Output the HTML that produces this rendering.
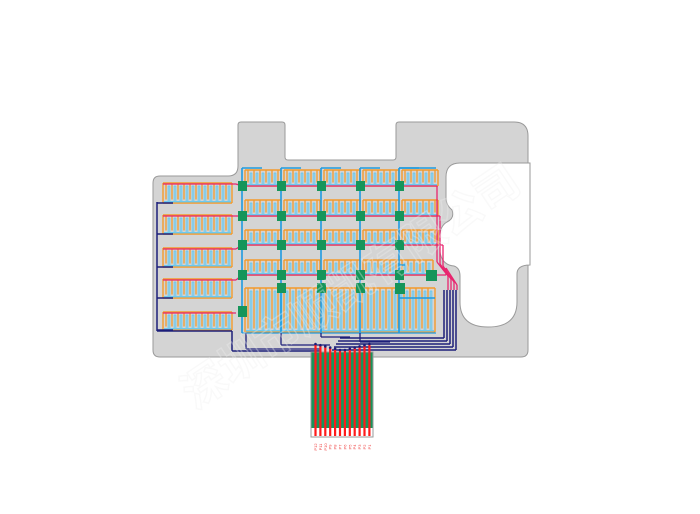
<!DOCTYPE html>
<html><head><meta charset="utf-8"><style>
html,body{margin:0;padding:0;background:#fff;width:700px;height:514px;overflow:hidden}
svg{display:block}
</style></head><body>
<svg id="s" width="700" height="514" viewBox="0 0 700 514" xmlns="http://www.w3.org/2000/svg">
<path d="M160 176 L228 176 Q238 176 238 166 L238 125 Q238 122 241 122 L282 122 Q285 122 285 125 L285 157 Q285 160 288 160 L393 160 Q396 160 396 157 L396 125 Q396 122 399 122 L514 122 Q528 122 528 136 L528 350 Q528 357 521 357 L160 357 Q153 357 153 350 L153 183 Q153 176 160 176 Z" fill="#d4d4d4" stroke="#9a9a9a" stroke-width="1"/>
<path d="M530 163 L460 163 Q446 163 446 177 L446 198 Q446 205 452 210 Q455 218 447 222 Q440 226 440 236 L440 252 Q442 265 454 266 Q460 268 460 276 L460 302 Q460 327 488 327 Q517 327 517 302 L517 274 Q517 265 530 265 Z" fill="#fff" stroke="#9a9a9a" stroke-width="1"/>
<g id="g"></g>
<text x="195" y="410" transform="rotate(-34 195 410)" font-family="Liberation Sans, Noto Sans CJK SC, sans-serif" font-size="44" fill="none" stroke="#eeeeee" stroke-opacity="0.35" stroke-width="1.4" font-weight="bold">深圳市顺凯有限公司</text>
</svg>
<script>
var g=document.getElementById('g'),h='';
function L(x1,y1,x2,y2,c,w){h+='<line x1="'+x1+'" y1="'+y1+'" x2="'+x2+'" y2="'+y2+'" stroke="'+c+'" stroke-width="'+(w||1.2)+'"/>';}
function R(x,y,w,hh,c){h+='<rect x="'+x+'" y="'+y+'" width="'+w+'" height="'+hh+'" fill="'+c+'"/>';}
var O='#f39a2b',B='#6cc9ee',P='#e8246e',N='#1c1f7a',C='#1e9be0',G='#16955a';
function combH(x,y,w,hh){
  L(x,y,x+w,y,O,1.4);L(x,y,x,y+hh,O,1.4);L(x+w,y,x+w,y+hh,O,1.4);
  L(x,y+hh,x+w,y+hh,O,1.4);L(x+1,y+hh-1.3,x+w-1,y+hh-1.3,B,1.4);
  for(var i=x+3;i<x+w-1;i+=6){L(i,y,i,y+hh-3.5,O,1.3);}
  for(var i=x+6;i<x+w-1;i+=6){L(i-0.8,y+3,i-0.8,y+hh-1,B,1.1);L(i+0.8,y+3,i+0.8,y+hh-1,B,1.1);L(i-0.8,y+3,i+0.8,y+3,B,1.1);}
}
var ly=[[183,203],[215,234],[248,267],[279,298],[312,330]];
ly.forEach(function(r,k){combH(163,r[0],69,r[1]-r[0]);});
var cols=[242,281,321,360,399];
var rows=[[170,186],[200,216],[230,245],[260,275]];
rows.forEach(function(r,ri){cols.forEach(function(c,ci){var w=36;if(ri==3&&ci==3)w=70; if(ri==3&&ci==4)return; combH(c+3,r[0],w,r[1]-r[0]);});});
combH(245,288,190,44);
cols.forEach(function(c,i){L(c,168,c,333,C,1.6);});
L(399,168,436,168,C,1.4);
for(var i=0;i<5;i++)L(cols[i],168,cols[i]+20,168,C,1.4);
L(399,265,405,265,C,1.4);L(399,298,435,298,C,1.4);
L(242,333,436,333,C,1.2);
rows.forEach(function(r,ri){L(242,r[1],437+ri*3,r[1],P,1.3);});
ly.forEach(function(r,k){var yy=r[0]+1;L(163,yy,236,yy,P,1.3);if(k<4)L(236,yy,242,rows[k][1],P,1.3);});
for(var k=0;k<4;k++){var x=437+k*3;L(x,rows[k][1],x,262+k*2,P,1.3);L(x,262+k*2,448+k*3,276+k*3,P,1.3);L(448+k*3,276+k*3,448+k*3,290,P,1.3);}
L(157,202,157,331,N,1.5);
ly.forEach(function(r){L(157,r[1],173,r[1],N,1.5);});
L(157,331,232,331,N,1.5);L(232,331,232,351,N,1.5);L(232,351,320,351,N,1.5);
for(var k=0;k<5;k++){var x=444+k*3,yb=338+k*3;L(x,290,x,yb,N,1.5);L(x,yb,340-k*2,yb,N,1.5);}
L(246,333,246,349,N,1.3);L(246,349,320,349,N,1.3);
L(281,333,281,345,N,1.3);L(281,345,330,345,N,1.3);
L(360,333,360,342,N,1.3);L(360,342,390,342,N,1.3);
L(321,333,321,337,N,1.3);L(321,337,350,337,N,1.3);
cols.forEach(function(c){rows.forEach(function(r,ri){R(c-4,r[1]-5,9,10,G);});});
[281,321,360].forEach(function(c){R(c-4,283,9,10,G);});
R(395,283,10,11,G);R(426,270,11,11,G);R(238,306,9,11,G);
R(311,352,62,76,G);R(311,428,62,9,'#fff');
h+='<rect x="311" y="352" width="62" height="85" fill="none" stroke="#9a9a9a" stroke-width="1"/>';
for(var i=0;i<12;i++){var x=315.5+i*4.9;L(x,344+(i<6?i:11-i)*1.2,x,436,'#ff1a1a',2.2);
 h+='<text x="'+(x+1.5)+'" y="447" transform="rotate(-90 '+(x+1.5)+' 447)" font-family="Liberation Sans, sans-serif" font-size="4" fill="#f04040" text-anchor="middle">P'+(12-i)+'</text>';}
for(var i=0;i<12;i++){var x=315.5+i*4.9;h+='<circle cx="'+x+'" cy="'+(344+(i<6?i:11-i)*1.2)+'" r="1.3" fill="'+N+'"/>';}
g.innerHTML=h;
</script>
</body></html>
